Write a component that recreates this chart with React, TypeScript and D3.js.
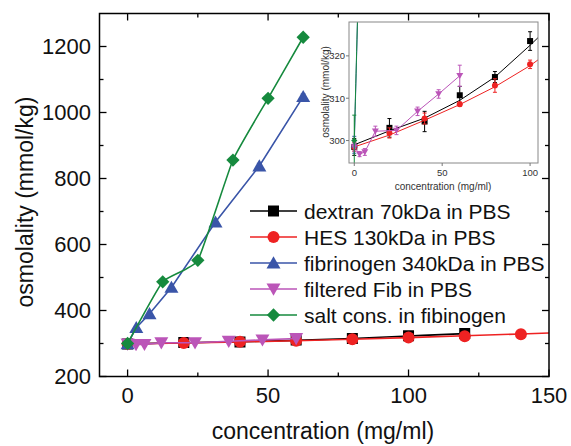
import React from "react";
import * as d3 from "d3";

// ---------- data ----------
const dextranX = [0, 20, 40, 60, 80, 100, 120];
const dextranY = [298.5, 303, 304.5, 310.7, 315, 323.5, 330];
const dextranErr = [2, 2.2, 2.4, 2.1, 1.3, 2.2, 2];
const dextranFitX = [0, 20, 40, 60, 80, 100, 105, 120];
const dextranFitY = [299, 302.3, 305.3, 309.5, 315, 322.5, 324.5, 330];

const hesX = [0, 20, 40, 60, 80, 100, 120, 140];
const hesY = [298.5, 301.8, 305.2, 308.6, 313, 318, 322, 328];
const hesErr = [1, 1.2, 1.3, 0.5, 1.6, 1, 1, 1];
const hesFitX = [0, 20, 40, 60, 80, 100, 105, 120, 140, 150];
const hesFitY = [298.5, 301.3, 304.8, 308.5, 312.7, 317.7, 319.2, 323.5, 329, 332];

const fibX = [0, 3.1, 7.8, 15.6, 31.3, 46.9, 62.5];
const fibY = [299, 348, 390, 470, 668, 838, 1048];
const fibErr = [2, 3, 4, 5, 6, 8, 8];

const filtX = [0, 3, 6, 12, 24, 36, 48, 60];
const filtY = [298.5, 296.8, 297.3, 302.2, 302.4, 306.9, 311, 315.3];
const filtErr = [1, 0.6, 0.8, 1.2, 1, 1, 1, 2.5];

const saltX = [0, 12.5, 25, 37.5, 50, 62.5];
const saltY = [300, 487, 552, 856, 1043, 1228];
const saltErr = [6, 5, 5, 6, 6, 6];

const legendLabels = [
  "dextran 70kDa in PBS",
  "HES 130kDa in PBS",
  "fibrinogen 340kDa in PBS",
  "filtered Fib in PBS",
  "salt cons. in fibinogen",
];
const mainXTicks = [0, 50, 100, 150];
const mainXMinor = [25, 75, 125];
const mainYTicks = [200, 400, 600, 800, 1000, 1200];
const mainYMinor = [300, 500, 700, 900, 1100];
const insetXTicks = [0, 50, 100];
const insetYTicks = [300, 310, 320];

type Shape = "square" | "circle" | "up" | "down" | "diamond";
const colors = {
  dextran: "#000000",
  hes: "#ee2222",
  fib: "#3a55a8",
  filt: "#bb55b8",
  salt: "#168a3e",
};

const FONT = "Arial, 'Liberation Sans', Helvetica, sans-serif";

function symbolPath(shape: Shape, s: number): string {
  switch (shape) {
    case "square":
      return d3.symbol(d3.symbolSquare, s * s)()!;
    case "circle":
      return d3.symbol(d3.symbolCircle, (Math.PI * s * s) / 4)()!;
    case "up":
    case "down":
      return d3.symbol(d3.symbolTriangle, (Math.sqrt(3) / 4) * s * s)()!;
    case "diamond":
      return d3.symbol(d3.symbolDiamond2, (s * s) / 2)()!;
  }
}

function Marker({ x, y, shape, size, color }: { x: number; y: number; shape: Shape; size: number; color: string }) {
  const rot = shape === "down" ? " rotate(180)" : "";
  const dy = shape === "up" ? size * 0.1 : shape === "down" ? -size * 0.1 : 0;
  return <path d={symbolPath(shape, size)} transform={`translate(${x},${y + dy})${rot}`} fill={color} />;
}

interface Series {
  xs: number[];
  ys: number[];
  err: number[];
  color: string;
  shape: Shape;
  fitX?: number[];
  fitY?: number[];
  smooth?: boolean;
}

const series: Series[] = [
  { xs: dextranX, ys: dextranY, err: dextranErr, color: colors.dextran, shape: "square", fitX: dextranFitX, fitY: dextranFitY },
  { xs: hesX, ys: hesY, err: hesErr, color: colors.hes, shape: "circle", fitX: hesFitX, fitY: hesFitY },
  { xs: fibX, ys: fibY, err: fibErr, color: colors.fib, shape: "up" },
  { xs: filtX, ys: filtY, err: filtErr, color: colors.filt, shape: "down" },
  { xs: saltX, ys: saltY, err: saltErr, color: colors.salt, shape: "diamond", smooth: true },
];

export default function App() {
  const W = 571, H = 446;
  const x = d3.scaleLinear().domain([-10, 150]).range([99.5, 549]);
  const y = d3.scaleLinear().domain([200, 1300]).range([376.5, 13.5]);
  const ix = d3.scaleLinear().domain([-3, 104.5]).range([349, 538]);
  const iy = d3.scaleLinear().domain([294.7, 328]).range([163, 22]);

  const mainMarkerSize: Record<Shape, number> = { square: 11, circle: 12, up: 14, down: 14, diamond: 15 };
  const insetMarkerSize: Record<Shape, number> = { square: 6, circle: 6, up: 7, down: 7, diamond: 7 };

  const lineFor = (sx: any, sy: any, smooth?: boolean) =>
    d3
      .line<[number, number]>()
      .x((d) => sx(d[0]))
      .y((d) => sy(d[1]))
      .curve(smooth ? d3.curveCardinal.tension(0.6) : d3.curveLinear);

  const renderSeries = (sx: any, sy: any, sizes: Record<Shape, number>, lw: number, cap: number, key: string) =>
    series.map((s, i) => {
      const lx = s.fitX ?? s.xs;
      const ly = s.fitY ?? s.ys;
      const pts = lx.map((v, j) => [v, ly[j]] as [number, number]);
      const path = lineFor(sx, sy, s.smooth)(pts)!;
      return (
        <g key={key + i}>
          <path d={path} fill="none" stroke={s.color} strokeWidth={lw} />
          {s.xs.map((v, j) => (
            <g key={j}>
              <line x1={sx(v)} x2={sx(v)} y1={sy(s.ys[j] - s.err[j])} y2={sy(s.ys[j] + s.err[j])} stroke={s.color} strokeWidth={1} />
              <line x1={sx(v) - cap} x2={sx(v) + cap} y1={sy(s.ys[j] - s.err[j])} y2={sy(s.ys[j] - s.err[j])} stroke={s.color} strokeWidth={1} />
              <line x1={sx(v) - cap} x2={sx(v) + cap} y1={sy(s.ys[j] + s.err[j])} y2={sy(s.ys[j] + s.err[j])} stroke={s.color} strokeWidth={1} />
              <Marker x={sx(v)} y={sy(s.ys[j])} shape={s.shape} size={sizes[s.shape]} color={s.color} />
            </g>
          ))}
        </g>
      );
    });

  const [x0, x1] = x.range();
  const [y0, y1] = y.range();
  const [ix0, ix1] = ix.range();
  const [iy0, iy1] = iy.range();

  return (
    <svg width={W} height={H} style={{ position: "absolute", left: 0, top: 0, background: "#fff" }} fontFamily={FONT}>
      <defs>
        <clipPath id="insetClip">
          <rect x={ix0} y={iy1} width={ix1 - ix0} height={iy0 - iy1} />
        </clipPath>
        <clipPath id="mainClip">
          <rect x={x0} y={y1} width={x1 - x0} height={y0 - y1} />
        </clipPath>
      </defs>
      <rect width={W} height={H} fill="#fff" />

      <g stroke="#000" strokeWidth={1.3}>
        {mainXTicks.map((t) => (
          <g key={"xt" + t}>
            <line x1={x(t)} x2={x(t)} y1={y0} y2={y0 - 7} />
            <line x1={x(t)} x2={x(t)} y1={y1} y2={y1 + 7} />
          </g>
        ))}
        {mainXMinor.map((t) => (
          <g key={"xm" + t}>
            <line x1={x(t)} x2={x(t)} y1={y0} y2={y0 - 4} />
            <line x1={x(t)} x2={x(t)} y1={y1} y2={y1 + 4} />
          </g>
        ))}
        {mainYTicks.map((t) => (
          <g key={"yt" + t}>
            <line x1={x0} x2={x0 + 7} y1={y(t)} y2={y(t)} />
            <line x1={x1} x2={x1 - 7} y1={y(t)} y2={y(t)} />
          </g>
        ))}
        {mainYMinor.map((t) => (
          <g key={"ym" + t}>
            <line x1={x0} x2={x0 + 4} y1={y(t)} y2={y(t)} />
            <line x1={x1} x2={x1 - 4} y1={y(t)} y2={y(t)} />
          </g>
        ))}
      </g>

      <g clipPath="url(#mainClip)">{renderSeries(x, y, mainMarkerSize, 1.6, 2.5, "m")}</g>

      <rect x={x0} y={y1} width={x1 - x0} height={y0 - y1} fill="none" stroke="#000" strokeWidth={1.5} />

      <g fontSize={22} fill="#111">
        {mainXTicks.map((t) => (
          <text key={"xl" + t} x={x(t)} y={395} textAnchor="middle" dominantBaseline="central">
            {t}
          </text>
        ))}
        {mainYTicks.map((t) => (
          <text key={"yl" + t} x={91} y={y(t)} textAnchor="end" dominantBaseline="central">
            {t}
          </text>
        ))}
      </g>
      <text x={323} y={431} fontSize={23} textAnchor="middle" dominantBaseline="central" fill="#111">
        concentration (mg/ml)
      </text>
      <text
        transform={`translate(25,202) rotate(-90)`}
        fontSize={23}
        textAnchor="middle"
        dominantBaseline="central"
        fill="#111"
      >
        osmolality (mmol/kg)
      </text>

      <g>
        {legendLabels.map((lab, i) => {
          const ly = 211 + i * 26;
          const s = series[i];
          return (
            <g key={"lg" + i}>
              <line x1={250} x2={297} y1={ly} y2={ly} stroke={s.color} strokeWidth={1.6} />
              <Marker x={273.5} y={ly} shape={s.shape} size={mainMarkerSize[s.shape]} color={s.color} />
              <text x={304} y={ly} fontSize={21} dominantBaseline="central" fill="#111">
                {lab}
              </text>
            </g>
          );
        })}
      </g>

      <rect x={ix0} y={iy1} width={ix1 - ix0} height={iy0 - iy1} fill="#fff" />
      <g clipPath="url(#insetClip)">{renderSeries(ix, iy, insetMarkerSize, 1, 2, "i")}</g>
      <rect x={ix0} y={iy1} width={ix1 - ix0} height={iy0 - iy1} fill="none" stroke="#888" strokeWidth={1} />
      <g stroke="#777" strokeWidth={1}>
        {insetXTicks.map((t) => (
          <line key={"ixt" + t} x1={ix(t)} x2={ix(t)} y1={iy0} y2={iy0 + 3} />
        ))}
        {insetYTicks.map((t) => (
          <line key={"iyt" + t} x1={ix0} x2={ix0 - 3} y1={iy(t)} y2={iy(t)} />
        ))}
      </g>
      <g fontSize={9.5} fill="#333">
        {insetXTicks.map((t) => (
          <text key={"ixl" + t} x={ix(t)} y={172} textAnchor="middle" dominantBaseline="central">
            {t}
          </text>
        ))}
        {insetYTicks.map((t) => (
          <text key={"iyl" + t} x={345} y={iy(t)} textAnchor="end" dominantBaseline="central">
            {t}
          </text>
        ))}
      </g>
      <text x={443} y={186} fontSize={10} textAnchor="middle" dominantBaseline="central" fill="#333">
        concentration (mg/ml)
      </text>
      <text
        transform={`translate(325,92) rotate(-90)`}
        fontSize={10}
        textAnchor="middle"
        dominantBaseline="central"
        fill="#333"
      >
        osmolality (mmol/kg)
      </text>
    </svg>
  );
}
